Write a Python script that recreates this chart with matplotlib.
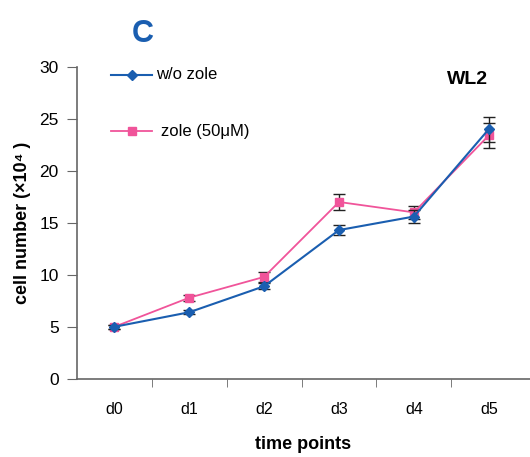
import numpy as np
import matplotlib
matplotlib.use("Agg")
from matplotlib import pyplot as plt

plt.rcParams['font.family'] = ['Liberation Sans', 'DejaVu Sans']

days = ["d0", "d1", "d2", "d3", "d4", "d5"]
ctrl = [5.0, 6.4, 8.9, 14.3, 15.6, 24.0]
ctrl_err = [0.2, 0.2, 0.3, 0.5, 0.6, 1.2]
zole = [5.0, 7.8, 9.8, 17.0, 16.0, 23.4]
zole_err = [0.2, 0.3, 0.5, 0.8, 0.6, 1.2]

BLUE = "#1a5eb0"
PINK = "#f0549a"

fig = plt.figure(figsize=(5.3, 4.57), dpi=100)
ax = fig.add_axes([0.145, 0.171, 0.855, 0.683])
x = np.arange(len(days))

ax.errorbar(x, zole, yerr=zole_err, color=PINK, marker="s", ms=6, lw=1.3,
            ecolor="#222222", elinewidth=1, capsize=4, capthick=1, zorder=2)
ax.errorbar(x, ctrl, yerr=ctrl_err, color=BLUE, marker="D", ms=5, lw=1.5,
            ecolor="#222222", elinewidth=1, capsize=4, capthick=1, zorder=3)

ax.set_xlim(-0.5, 5.55)
ax.set_ylim(0, 30)
ax.set_yticks(range(0, 31, 5))
ax.set_xticks(x)
ax.set_xticklabels(days, fontsize=11.5)
ax.set_xticks(np.arange(0.5, 5, 1), minor=True)
ax.tick_params(axis="x", which="major", length=0, pad=17)
ax.tick_params(axis="x", which="minor", length=6, color="#666666", direction="out")
ax.tick_params(axis="y", labelsize=12.5, length=7, pad=6, color="#666666")
for s in ["top", "right"]:
    ax.spines[s].set_visible(False)
for s in ["left", "bottom"]:
    ax.spines[s].set_color("#666666")
    ax.spines[s].set_linewidth(1.2)

ax.set_xlabel("time points", fontsize=13, fontweight="bold", labelpad=13)
ax.set_ylabel("cell number (\u00d710\u2074 )", fontsize=13, fontweight="bold", labelpad=6)

# legend drawn by hand like the original
ax.plot([-0.05, 0.24, 0.5], [29.25, 29.25, 29.25], color=BLUE, lw=1.5, marker="D",
        ms=5, markevery=[1], clip_on=False)
ax.text(0.56, 29.25, "w/o zole", fontsize=12, va="center")
ax.plot([-0.05, 0.24, 0.5], [23.8, 23.8, 23.8], color=PINK, lw=1.3, marker="s",
        ms=6, markevery=[1], clip_on=False)
ax.text(0.63, 23.8, "zole (50\u03bcM)", fontsize=12, va="center")

ax.text(4.72, 28.8, "WL2", fontsize=14, fontweight="bold", ha="center", va="center")
fig.text(0.27, 0.925, "C", fontsize=22, fontweight="bold", color=BLUE, ha="center", va="center")

fig.savefig("out.png", dpi=100)
